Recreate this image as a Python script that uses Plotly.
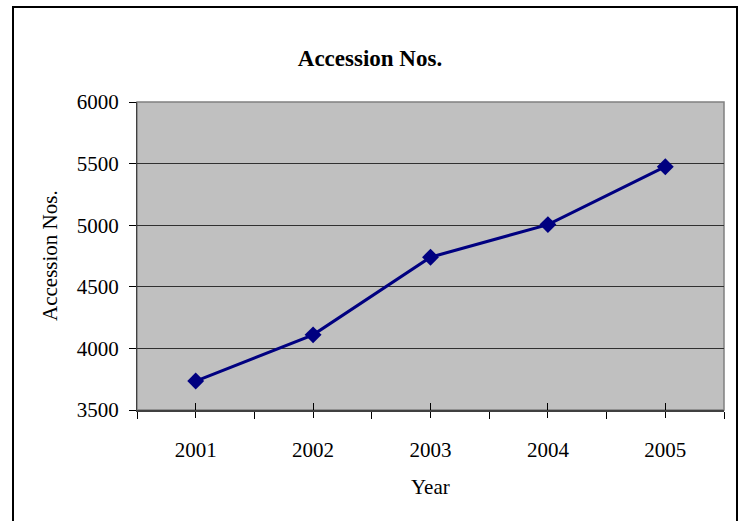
import plotly.graph_objects as go

# Accession numbers per year
years = [2001, 2002, 2003, 2004, 2005]
accessions = [3735, 4110, 4740, 5005, 5475]
year_labels = [str(y) for y in years]
y_ticks = [3500, 4000, 4500, 5000, 5500, 6000]

FONT = "Liberation Serif"
W, H = 744, 521
ML, MR, MT, MB = 137, 20, 102, 111
PW = W - ML - MR
PH = H - MT - MB

def px_x(x):
    return (x - ML) / PW

def px_y(y):
    return (H - MB - y) / PH

boundaries = [years[0] - 0.5] + [y + 0.5 for y in years]

fig = go.Figure()
fig.add_trace(go.Scatter(
    x=years, y=accessions, mode="lines+markers",
    line=dict(color="#000080", width=3),
    marker=dict(symbol="diamond", size=13, color="#000080"),
    showlegend=False,
))

fig.update_layout(
    width=W, height=H, autosize=False,
    margin=dict(l=ML, r=MR, t=MT, b=MB, pad=0),
    paper_bgcolor="white",
    plot_bgcolor="#C0C0C0",
    font=dict(family=FONT, size=21, color="black"),
    title=dict(
        text="<b>Accession Nos.</b>",
        font=dict(family=FONT, size=23, color="black"),
        x=370 / W, xref="container", xanchor="center",
        y=1 - 58 / H, yref="container", yanchor="middle",
    ),
    xaxis=dict(
        range=[years[0] - 0.5, years[-1] + 0.5],
        tickmode="array", tickvals=years, ticktext=year_labels,
        ticks="outside", ticklen=6, tickwidth=1, tickcolor="black",
        ticklabelstandoff=14,
        minor=dict(tickmode="array", tickvals=boundaries,
                   ticks="outside", ticklen=7, tickwidth=1, tickcolor="black"),
        showgrid=False, zeroline=False,
        showline=True, linecolor="#404040", linewidth=2,
        tickfont=dict(family=FONT, size=21),
    ),
    xaxis2=dict(
        overlaying="x", matches="x",
        range=[years[0] - 0.5, years[-1] + 0.5],
        tickmode="array", tickvals=years,
        ticks="inside", ticklen=7, tickwidth=1, tickcolor="black",
        showticklabels=False, showgrid=False, zeroline=False,
        showline=False,
    ),
    yaxis=dict(
        range=[3500, 6000],
        tickmode="array", tickvals=y_ticks,
        ticks="outside", ticklen=7, tickwidth=1, tickcolor="black",
        ticklabelstandoff=6,
        showgrid=True, gridcolor="#303030", gridwidth=1,
        zeroline=False,
        showline=True, linecolor="#404040", linewidth=1,
        tickfont=dict(family=FONT, size=21),
    ),
)

# invisible trace so the overlay axis carrying the inner tick halves is drawn
fig.add_trace(go.Scatter(x=years, y=accessions, xaxis="x2", mode="none",
                         showlegend=False, hoverinfo="skip"))

# plot-area frame and outer chart frame
fig.add_shape(type="rect", xref="paper", yref="paper", x0=0, x1=1, y0=0, y1=1,
              line=dict(color="#808080", width=1.5), layer="below")
fig.add_shape(type="rect", xref="paper", yref="paper",
              x0=px_x(13), x1=px_x(737), y0=px_y(530), y1=px_y(7),
              line=dict(color="black", width=2))

# axis titles
fig.add_annotation(text="Year", xref="paper", yref="paper",
                   x=0.5, y=px_y(487), showarrow=False,
                   xanchor="center", yanchor="middle",
                   font=dict(family=FONT, size=21))
fig.add_annotation(text="Accession Nos.", xref="paper", yref="paper",
                   x=px_x(50), y=px_y(256), showarrow=False, textangle=-90,
                   xanchor="center", yanchor="middle",
                   font=dict(family=FONT, size=21))

fig.write_html("out.html")
